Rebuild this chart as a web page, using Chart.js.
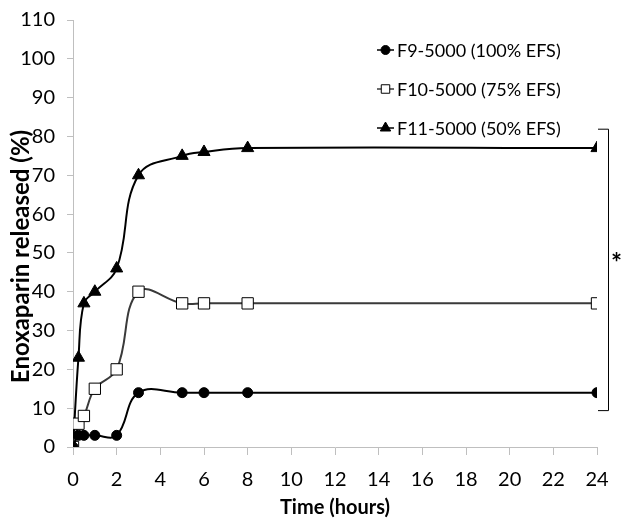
<!DOCTYPE html>
<html>
<head>
<meta charset="utf-8">
<script src="https://cdn.jsdelivr.net/npm/chart.js@4"></script>
<style>
  body { margin: 0; background: #fff; }
  #wrap { width: 622px; height: 520px; }
</style>
</head>
<body>
<div id="wrap"><canvas id="cvs" width="622" height="520"></canvas></div>
<script>
// sampling times (hours)
var times = [0, 0.25, 0.5, 1, 2, 3, 5, 6, 8, 24];
// released (%)
var f9 = [0, 3, 3, 3, 3, 14, 14, 14, 14, 14];
var f10 = [0, 6, 8, 15, 20, 40, 37, 37, 37, 37];
var f11 = [0, 23, 37, 40, 46, 70, 75, 76, 77, 77];
var labels = ["F9-5000 (100% EFS)", "F10-5000 (75% EFS)", "F11-5000 (50% EFS)"];
var yTitle = "Enoxaparin released (%)";

var font = "Lato, 'Open Sans', sans-serif";
var axisGray = "#bfbfbf";

function pts(vals) {
	return times.map(function (t, i) { return { x: t, y: vals[i] }; });
}

// excel style legend, y title, bracket and star
var extras = {
	id: "extras",
	afterDraw: function (chart) {
		var ctx = chart.ctx;
		var area = chart.chartArea;
		var ys = chart.scales.y;
		ctx.save();
		// legend
		var lx = 377, ly = area.top + 30;
		for (var i = 0; i < chart.data.datasets.length; i++) {
			var ds = chart.data.datasets[i];
			var y = ly + i * 39;
			ctx.strokeStyle = ds.borderColor;
			ctx.lineWidth = 1.5;
			ctx.beginPath();
			ctx.moveTo(lx, y);
			ctx.lineTo(lx + 17, y);
			ctx.stroke();
			ctx.fillStyle = ds.pointBackgroundColor;
			ctx.strokeStyle = "#000";
			ctx.lineWidth = 1;
			var r = ds.pointStyle === "rect" ? 6 : (ds.pointStyle === "triangle" ? 6 : 4.5);
			Chart.helpers.drawPoint(ctx, { pointStyle: ds.pointStyle, radius: r, rotation: 0, borderWidth: 1 }, lx + 8.5, y);
			ctx.fillStyle = "#000";
			ctx.font = "18px " + font;
			ctx.textBaseline = "middle";
			ctx.textAlign = "left";
			ctx.fillText(labels[i], lx + 20, y + 1);
		}
		// y axis title
		ctx.save();
		ctx.translate(29, (area.top + area.bottom) / 2 + 23);
		ctx.rotate(-Math.PI / 2);
		ctx.font = "bold 24px " + font;
		ctx.textAlign = "center";
		ctx.textBaseline = "alphabetic";
		ctx.fillStyle = "#000";
		ctx.fillText(yTitle, 0, 0);
		ctx.restore();
		// bracket between F11 and F9 end points
		var top = ys.getPixelForValue(Math.max.apply(null, f11) + 5);
		var bot = ys.getPixelForValue(Math.max.apply(null, f9) - 4.5);
		var bx = area.right + 11;
		ctx.strokeStyle = "#000";
		ctx.lineWidth = 1;
		ctx.beginPath();
		ctx.moveTo(area.right + 1, top + 0.5);
		ctx.lineTo(bx + 0.5, top + 0.5);
		ctx.lineTo(bx + 0.5, bot + 0.5);
		ctx.lineTo(area.right + 1, bot + 0.5);
		ctx.stroke();
		ctx.fillStyle = "#000";
		ctx.font = "bold 26px " + font;
		ctx.textAlign = "left";
		ctx.textBaseline = "middle";
		ctx.fillText("*", bx + 3, (top + bot) / 2 - 6);
		ctx.restore();
	}
};

var config = {
	type: "line",
	data: {
		datasets: [{
			label: labels[0],
			data: pts(f9),
			borderColor: "#000",
			pointStyle: "circle",
			pointRadius: 5,
			pointBackgroundColor: "#000",
			pointBorderColor: "#000"
		}, {
			label: labels[1],
			data: pts(f10),
			borderColor: "#3a3a3a",
			pointStyle: "rect",
			pointRadius: 8,
			pointBackgroundColor: "#fff",
			pointBorderColor: "#000"
		}, {
			label: labels[2],
			data: pts(f11),
			borderColor: "#000",
			pointStyle: "triangle",
			pointRadius: 7,
			pointBackgroundColor: "#000",
			pointBorderColor: "#000"
		}]
	},
	options: {
		responsive: false,
		animation: false,
		layout: { padding: { top: 0, right: 25, left: 0, bottom: 0 } },
		elements: {
			line: { tension: 0.4, borderWidth: 2, fill: false },
			point: { borderWidth: 1, hoverRadius: 6 }
		},
		plugins: {
			legend: { display: false },
			tooltip: { enabled: false }
		},
		scales: {
			x: {
				type: "linear",
				min: 0,
				max: 24,
				border: { color: axisGray, width: 1 },
				grid: { drawOnChartArea: false, drawTicks: true, tickLength: 8, color: axisGray },
				ticks: { stepSize: 2, color: "#000", padding: 13, font: { family: font, size: 20 } },
				title: { display: true, text: "Time (hours)", color: "#000", padding: { top: 0, bottom: 0 }, font: { family: font, size: 20, weight: "bold" } },
				afterFit: function (s) { s.height = 73; }
			},
			y: {
				min: 0,
				max: 110,
				border: { color: axisGray, width: 1 },
				grid: { drawOnChartArea: false, drawTicks: true, tickLength: 6, color: axisGray },
				ticks: { stepSize: 10, color: "#000", padding: 12, font: { family: font, size: 20 } },
				afterFit: function (s) { s.width = 73; s.paddingTop = 20; }
			}
		}
	},
	plugins: [extras]
};

var chart = new Chart("cvs", config);
</script>
</body>
</html>
